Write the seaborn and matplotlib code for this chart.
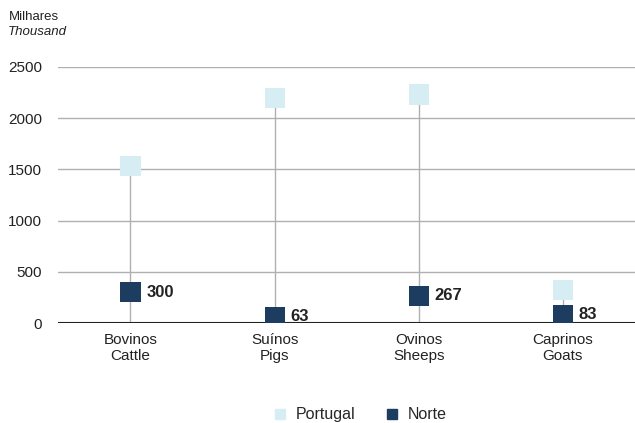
import matplotlib
matplotlib.use("Agg")
import matplotlib.pyplot as plt
import seaborn as sns
import pandas as pd
from matplotlib.lines import Line2D

categories = ["Bovinos\nCattle", "Suínos\nPigs", "Ovinos\nSheeps", "Caprinos\nGoats"]
portugal = [1530, 2200, 2230, 320]
norte = [300, 63, 267, 83]

sns.set_theme(style="white")
plt.rcParams['font.family'] = ['Liberation Sans', 'DejaVu Sans']

df = pd.DataFrame({
    "cat": categories * 2,
    "value": portugal + norte,
    "serie": ["Portugal"] * 4 + ["Norte"] * 4,
})

fig, ax = plt.subplots(figsize=(6.35, 4.23), dpi=100)
fig.subplots_adjust(left=0.092, right=1.0, top=0.842, bottom=0.236)

ax.yaxis.grid(True, color="#b0b0b0", linewidth=1)
ax.set_axisbelow(True)

# stems from 0 up to the Portugal value
ax.vlines(range(len(categories)), 0, portugal, color="#b0b0b0", linewidth=1, zorder=1)

sns.scatterplot(data=df, x="cat", y="value", hue="serie", marker="s", s=210,
                palette={"Portugal": "#d6eef3", "Norte": "#1c3d5f"},
                edgecolor="none", ax=ax, zorder=3, legend=False)

for i, v in enumerate(norte):
    ax.text(i + 0.11, v, str(v), fontsize=12, fontweight="bold", color="#222222",
            va="center", ha="left", zorder=4)

ax.axhline(0, color="#222222", linewidth=1.5, zorder=2)
ax.set_xlim(-0.5, 3.5)
ax.set_ylim(0, 2500)
ax.set_yticks(range(0, 2501, 500))
ax.tick_params(axis="both", length=0, labelsize=11, colors="#222222")
ax.tick_params(axis="y", pad=12)
ax.tick_params(axis="x", pad=7)
ax.set_xlabel("")
ax.set_ylabel("")
for s in ax.spines.values():
    s.set_visible(False)

fig.text(0.014, 0.975, "Milhares", fontsize=9.5, color="#222222", ha="left", va="top")
fig.text(0.012, 0.938, "Thousand", fontsize=9.5, style="italic", color="#222222", ha="left", va="top")

handles = [Line2D([], [], marker="s", linestyle="none", markersize=7, color="#d6eef3"),
           Line2D([], [], marker="s", linestyle="none", markersize=7, color="#1c3d5f")]
fig.legend(handles, ["Portugal", "Norte"], loc="lower center", bbox_to_anchor=(0.56, -0.025),
           ncol=2, frameon=False, fontsize=11.5, handletextpad=0.0, columnspacing=1.3,
           borderpad=0.2)

fig.savefig("out.png", dpi=100)
